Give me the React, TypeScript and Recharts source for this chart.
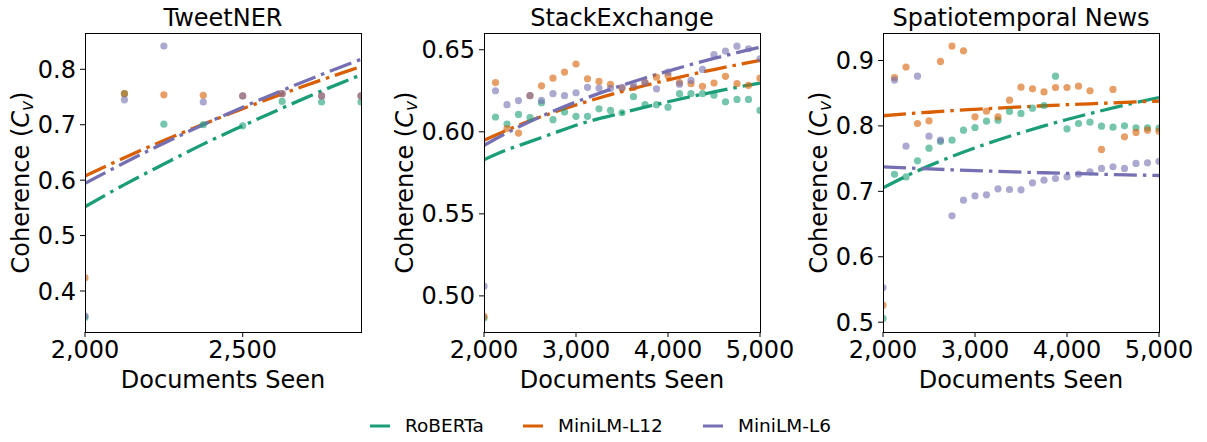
import React from "react";
import { ComposedChart, Scatter, Line, XAxis, YAxis } from "recharts";

// colours (Dark2)
const GREEN = "#1b9e77";
const ORANGE = "#d95f02";
const PURPLE = "#7570b3";
const FONT = "DejaVu Sans, sans-serif";

// ---- TweetNER ----
const tweetX = [2000, 2125, 2250, 2375, 2500, 2625, 2750, 2875];
const tweetRoberta = [0.352, 0.756, 0.701, 0.7, 0.698, 0.742, 0.741, 0.741];
const tweetL12 = [0.424, 0.756, 0.754, 0.753, 0.752, 0.756, 0.752, 0.752];
const tweetL6 = [0.355, 0.745, 0.842, 0.741, 0.752, 0.756, 0.752, 0.752];
const tweetFitRoberta = [0.552, 0.592, 0.629, 0.665, 0.698, 0.73, 0.761, 0.79];
const tweetFitL12 = [0.6075, 0.6405, 0.6716, 0.701, 0.7289, 0.7555, 0.7808, 0.805];
const tweetFitL6 = [0.594, 0.6314, 0.6667, 0.7001, 0.7317, 0.7618, 0.7906, 0.818];

// ---- StackExchange / Spatiotemporal News share x ----
const longX = [
  2000, 2125, 2250, 2375, 2500, 2625, 2750, 2875, 3000, 3125, 3250, 3375, 3500,
  3625, 3750, 3875, 4000, 4125, 4250, 4375, 4500, 4625, 4750, 4875, 5000,
];
const fitX = [2000, 2250, 2500, 2750, 3000, 3250, 3500, 3750, 4000, 4250, 4500, 4750, 5000];

const seRoberta = [
  0.4865, 0.609, 0.6047, 0.6106, 0.6086, 0.6177, 0.6074, 0.612, 0.6094, 0.6094, 0.614, 0.613, 0.6116,
  0.6214, 0.6165, 0.6165, 0.615, 0.6232, 0.6232, 0.6232, 0.6222, 0.6183, 0.6197, 0.6197, 0.613,
];
const seL12 = [
  0.4875, 0.63, 0.602, 0.5992, 0.622, 0.628, 0.6327, 0.6364, 0.6413, 0.6323, 0.6307, 0.6289, 0.6265,
  0.627, 0.63, 0.6333, 0.6343, 0.63, 0.6293, 0.6277, 0.6297, 0.6338, 0.6293, 0.6283, 0.6327,
];
const seL6 = [
  0.5059, 0.625, 0.6165, 0.619, 0.622, 0.6191, 0.6232, 0.622, 0.6238, 0.6271, 0.6267, 0.6265, 0.6271,
  0.6285, 0.63, 0.6262, 0.6364, 0.629, 0.6313, 0.638, 0.647, 0.6492, 0.6522, 0.6506, 0.6445,
];
const seFitRoberta = [0.583, 0.589, 0.594, 0.599, 0.604, 0.608, 0.6115, 0.615, 0.6183, 0.6214, 0.6243, 0.6271, 0.6297];
const seFitL12 = [0.5948, 0.601, 0.6067, 0.6117, 0.6163, 0.6206, 0.6245, 0.6282, 0.6316, 0.6349, 0.6379, 0.6408, 0.6435];
const seFitL6 = [0.5917, 0.5994, 0.6063, 0.6125, 0.6182, 0.6234, 0.6283, 0.6328, 0.637, 0.641, 0.6447, 0.6482, 0.6516];

const stRoberta = [
  0.506, 0.726, 0.722, 0.7466, 0.766, 0.7762, 0.7782, 0.7935, 0.7976, 0.8073, 0.8088, 0.822, 0.819,
  0.8271, 0.8312, 0.876, 0.7955, 0.8037, 0.8057, 0.7996, 0.7981, 0.8001, 0.797, 0.797, 0.7966,
];
const stL12 = [
  0.526, 0.874, 0.89, 0.8037, 0.8078, 0.8985, 0.922, 0.9148, 0.8139, 0.8225, 0.8139, 0.8394, 0.8592,
  0.8567, 0.852, 0.8587, 0.8587, 0.8608, 0.8536, 0.764, 0.8557, 0.7833, 0.79, 0.7935, 0.792,
];
const stL6 = [
  0.553, 0.87, 0.769, 0.876, 0.7843, 0.7782, 0.6625, 0.6865, 0.6931, 0.6946, 0.7038, 0.7028, 0.7023,
  0.713, 0.7171, 0.7196, 0.7222, 0.7263, 0.7298, 0.735, 0.7375, 0.735, 0.7426, 0.7436, 0.746,
];
const stFitRoberta = [0.7053, 0.7231, 0.7389, 0.7533, 0.7664, 0.7785, 0.7896, 0.8, 0.8098, 0.8189, 0.8275, 0.8357, 0.8434];
const stFitL12 = [0.8155, 0.8184, 0.8209, 0.8233, 0.8254, 0.8273, 0.8291, 0.8308, 0.8324, 0.8338, 0.8352, 0.8366, 0.8378];
const stFitL6 = [0.7375, 0.7358, 0.7343, 0.7329, 0.7316, 0.7305, 0.7294, 0.7284, 0.7274, 0.7266, 0.7257, 0.7249, 0.7242];

const models = ["RoBERTa", "MiniLM-L12", "MiniLM-L6"];
const colors = [GREEN, ORANGE, PURPLE];

const pts = (xs: number[], ys: number[]) => xs.map((x, i) => ({ x, y: ys[i] }));

const PLOT_TOP = 33;
const PLOT_H = 299;
const PLOT_W = 276;
const Y_AXIS_W = 85;
const RIGHT_PAD = 40;

const panels = [
  {
    title: "TweetNER",
    plotLeft: 85,
    labelX: 29,
    xDomain: [2000, 2875],
    xTicks: [2000, 2500],
    yDomain: [0.326, 0.8655],
    yTicks: [0.4, 0.5, 0.6, 0.7, 0.8],
    yDigits: 1,
    scatter: [pts(tweetX, tweetRoberta), pts(tweetX, tweetL12), pts(tweetX, tweetL6)],
    fits: [pts(tweetX, tweetFitRoberta), pts(tweetX, tweetFitL12), pts(tweetX, tweetFitL6)],
  },
  {
    title: "StackExchange",
    plotLeft: 484,
    labelX: 14,
    xDomain: [2000, 5000],
    xTicks: [2000, 3000, 4000, 5000],
    yDomain: [0.478, 0.6602],
    yTicks: [0.5, 0.55, 0.6, 0.65],
    yDigits: 2,
    scatter: [pts(longX, seRoberta), pts(longX, seL12), pts(longX, seL6)],
    fits: [pts(fitX, seFitRoberta), pts(fitX, seFitL12), pts(fitX, seFitL6)],
  },
  {
    title: "Spatiotemporal News",
    plotLeft: 883,
    labelX: 29,
    xDomain: [2000, 5000],
    xTicks: [2000, 3000, 4000, 5000],
    yDomain: [0.485, 0.942],
    yTicks: [0.5, 0.6, 0.7, 0.8, 0.9],
    yDigits: 1,
    scatter: [pts(longX, stRoberta), pts(longX, stL12), pts(longX, stL6)],
    fits: [pts(fitX, stFitRoberta), pts(fitX, stFitL12), pts(fitX, stFitL6)],
  },
];

const tickStyle = { fontSize: 24, fill: "#000", fontFamily: FONT };

function Panel({ p }: { p: (typeof panels)[number] }) {
  const left = p.plotLeft - Y_AXIS_W;
  return (
    <div style={{ position: "absolute", left, top: 0 }}>
      <ComposedChart
        width={Y_AXIS_W + PLOT_W + RIGHT_PAD}
        height={PLOT_TOP + PLOT_H + 60}
        margin={{ top: PLOT_TOP, right: RIGHT_PAD, bottom: 0, left: 0 }}
      >
        <XAxis
          type="number"
          dataKey="x"
          domain={p.xDomain}
          ticks={p.xTicks}
          allowDataOverflow
          height={60}
          axisLine={false}
          tickSize={5}
          tickMargin={4}
          tickLine={{ stroke: "#000" }}
          tick={tickStyle}
          tickFormatter={(v: number) => v.toLocaleString("en-US")}
        />
        <YAxis
          type="number"
          dataKey="y"
          domain={p.yDomain}
          ticks={p.yTicks}
          allowDataOverflow
          width={Y_AXIS_W}
          axisLine={false}
          tickSize={5}
          tickMargin={4}
          tickLine={{ stroke: "#000" }}
          tick={tickStyle}
          tickFormatter={(v: number) => v.toFixed(p.yDigits)}
        />
        {p.scatter.map((d, i) => (
          <Scatter
            key={"s" + i}
            data={d}
            isAnimationActive={false}
            shape={(s: any) => (
              <circle cx={s.cx} cy={s.cy} r={3.6} fill={colors[i]} fillOpacity={0.6} />
            )}
          />
        ))}
        {p.fits.map((d, i) => (
          <Line
            key={"l" + i}
            data={d}
            dataKey="y"
            type="monotone"
            dot={false}
            stroke={colors[i]}
            strokeWidth={3.3}
            strokeDasharray="23 6 3.5 6"
            isAnimationActive={false}
          />
        ))}
      </ComposedChart>
    </div>
  );
}

export default function App() {
  const legendX = [370, 523, 703];
  return (
    <div
      style={{
        position: "absolute",
        left: 0,
        top: 0,
        width: 1207,
        height: 442,
        background: "#fff",
        fontFamily: FONT,
      }}
    >
      {panels.map((p) => (
        <Panel key={p.title} p={p} />
      ))}
      <svg
        width={1207}
        height={442}
        style={{ position: "absolute", left: 0, top: 0, pointerEvents: "none" }}
        fontFamily={FONT}
      >
        {panels.map((p) => {
          const cx = p.plotLeft + PLOT_W / 2;
          const cy = PLOT_TOP + PLOT_H / 2;
          const lx = p.plotLeft - Y_AXIS_W + p.labelX;
          return (
            <g key={p.title}>
              <rect
                x={p.plotLeft + 0.5}
                y={PLOT_TOP + 0.5}
                width={PLOT_W}
                height={PLOT_H}
                fill="none"
                stroke="#000"
                strokeWidth={1}
              />
              <text x={cx} y={26} textAnchor="middle" fontSize={24} fill="#000">
                {p.title}
              </text>
              <text x={cx} y={388} textAnchor="middle" fontSize={24} fill="#000">
                Documents Seen
              </text>
              <text
                x={lx}
                y={cy}
                transform={`rotate(-90 ${lx} ${cy})`}
                textAnchor="middle"
                fontSize={24}
                fill="#000"
              >
                <tspan>Coherence (</tspan>
                <tspan fontStyle="italic">C</tspan>
                <tspan fontStyle="italic" fontSize={17} dy={4}>
                  v
                </tspan>
                <tspan dy={-4}>)</tspan>
              </text>
            </g>
          );
        })}
        {models.map((m, i) => (
          <g key={m}>
            <line
              x1={legendX[i]}
              x2={legendX[i] + 20}
              y1={426}
              y2={426}
              stroke={colors[i]}
              strokeWidth={3}
            />
            <text x={legendX[i] + 35} y={432} fontSize={18.5} fill="#000">
              {m}
            </text>
          </g>
        ))}
      </svg>
    </div>
  );
}
